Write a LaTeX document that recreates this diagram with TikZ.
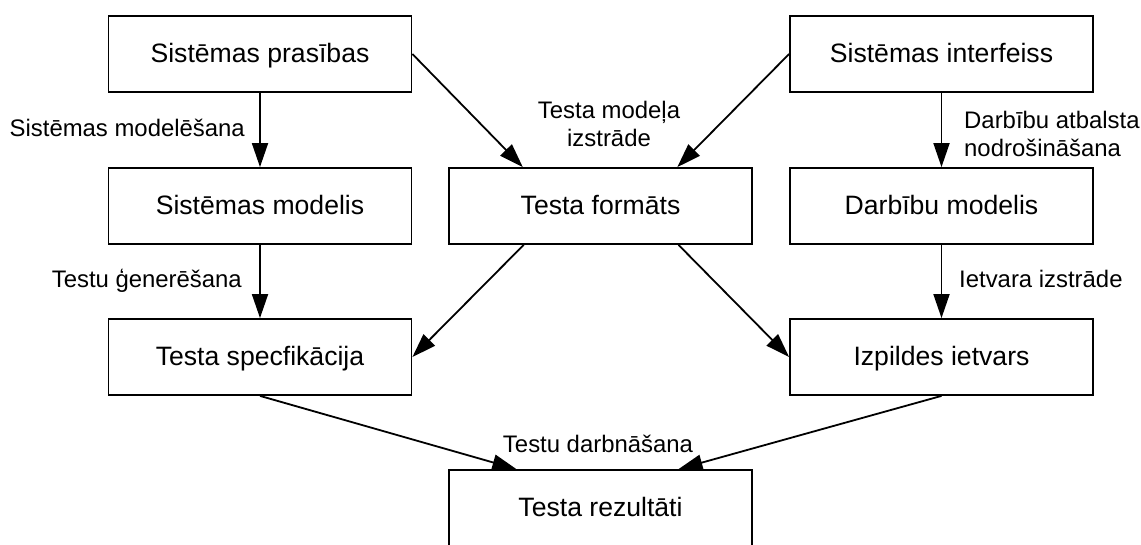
\documentclass[tikz,border=0pt]{standalone}
\usepackage{fontspec}
\setmainfont{Liberation Sans}
\usetikzlibrary{arrows.meta,calc}
\tikzset{
  box/.style={draw, line width=1.8pt, minimum width=303pt, minimum height=76pt, inner sep=0pt,
    text height=17.4pt, text depth=0pt,
    font=\fontsize{26.6}{30}\selectfont},
  lbl/.style={inner sep=0pt, font=\fontsize{23.9}{28.5}\selectfont},
  arr/.style={line width=1.8pt, -{Triangle[length=24pt,width=16pt]}}
}
\begin{document}
\begin{tikzpicture}[x=1pt,y=-1pt]
\clip (0,0) rectangle (1141,545);
\fill[white] (0,0) rectangle (1141,545);
\node[box] (pras) at (260,54) {Sistēmas prasības};
\node[box] (intf) at (941.5,54) {Sistēmas interfeiss};
\node[box] (smod) at (260,206) {Sistēmas modelis};
\node[box] (form) at (600.5,206) {Testa formāts};
\node[box] (dmod) at (941.5,206) {Darbību modelis};
\node[box] (spec) at (260,357) {Testa specfikācija};
\node[box] (izp) at (941.5,357) {Izpildes ietvars};
\node[box] (rez) at (600.5,508) {Testa rezultāti};

\draw[arr] (pras) -- (smod);
\draw[arr] (smod) -- (spec);
\draw[arr] (intf) -- (dmod);
\draw[arr] (dmod) -- (izp);
\draw[arr] (pras.east) -- ($(form.north west)!0.245!(form.north east)$);
\draw[arr] (intf.west) -- ($(form.north west)!0.752!(form.north east)$);
\draw[arr] ($(form.south west)!0.248!(form.south east)$) -- (spec.east);
\draw[arr] ($(form.south west)!0.756!(form.south east)$) -- (izp.west);
\draw[arr] (spec.south) -- ($(rez.north west)!0.224!(rez.north east)$);
\draw[arr] (izp.south) -- ($(rez.north west)!0.756!(rez.north east)$);

\node[lbl, anchor=base east] (l1) at (245,137) {Sistēmas modelēšana};
\node[lbl, anchor=base east] (l2) at (242,288) {Testu ģenerēšana};
\node[lbl, anchor=north, align=center] (l3) at (609,100.5) {Testa modeļa\\izstrāde};
\node[lbl, anchor=north west, align=left] (l4) at (964,110.5) {Darbību atbalsta\\nodrošināšana};
\node[lbl, anchor=base west] (l5) at (959,288) {Ietvara izstrāde};
\node[lbl, anchor=base] (l6) at (598,452) {Testu darbnāšana};
\end{tikzpicture}
\end{document}
